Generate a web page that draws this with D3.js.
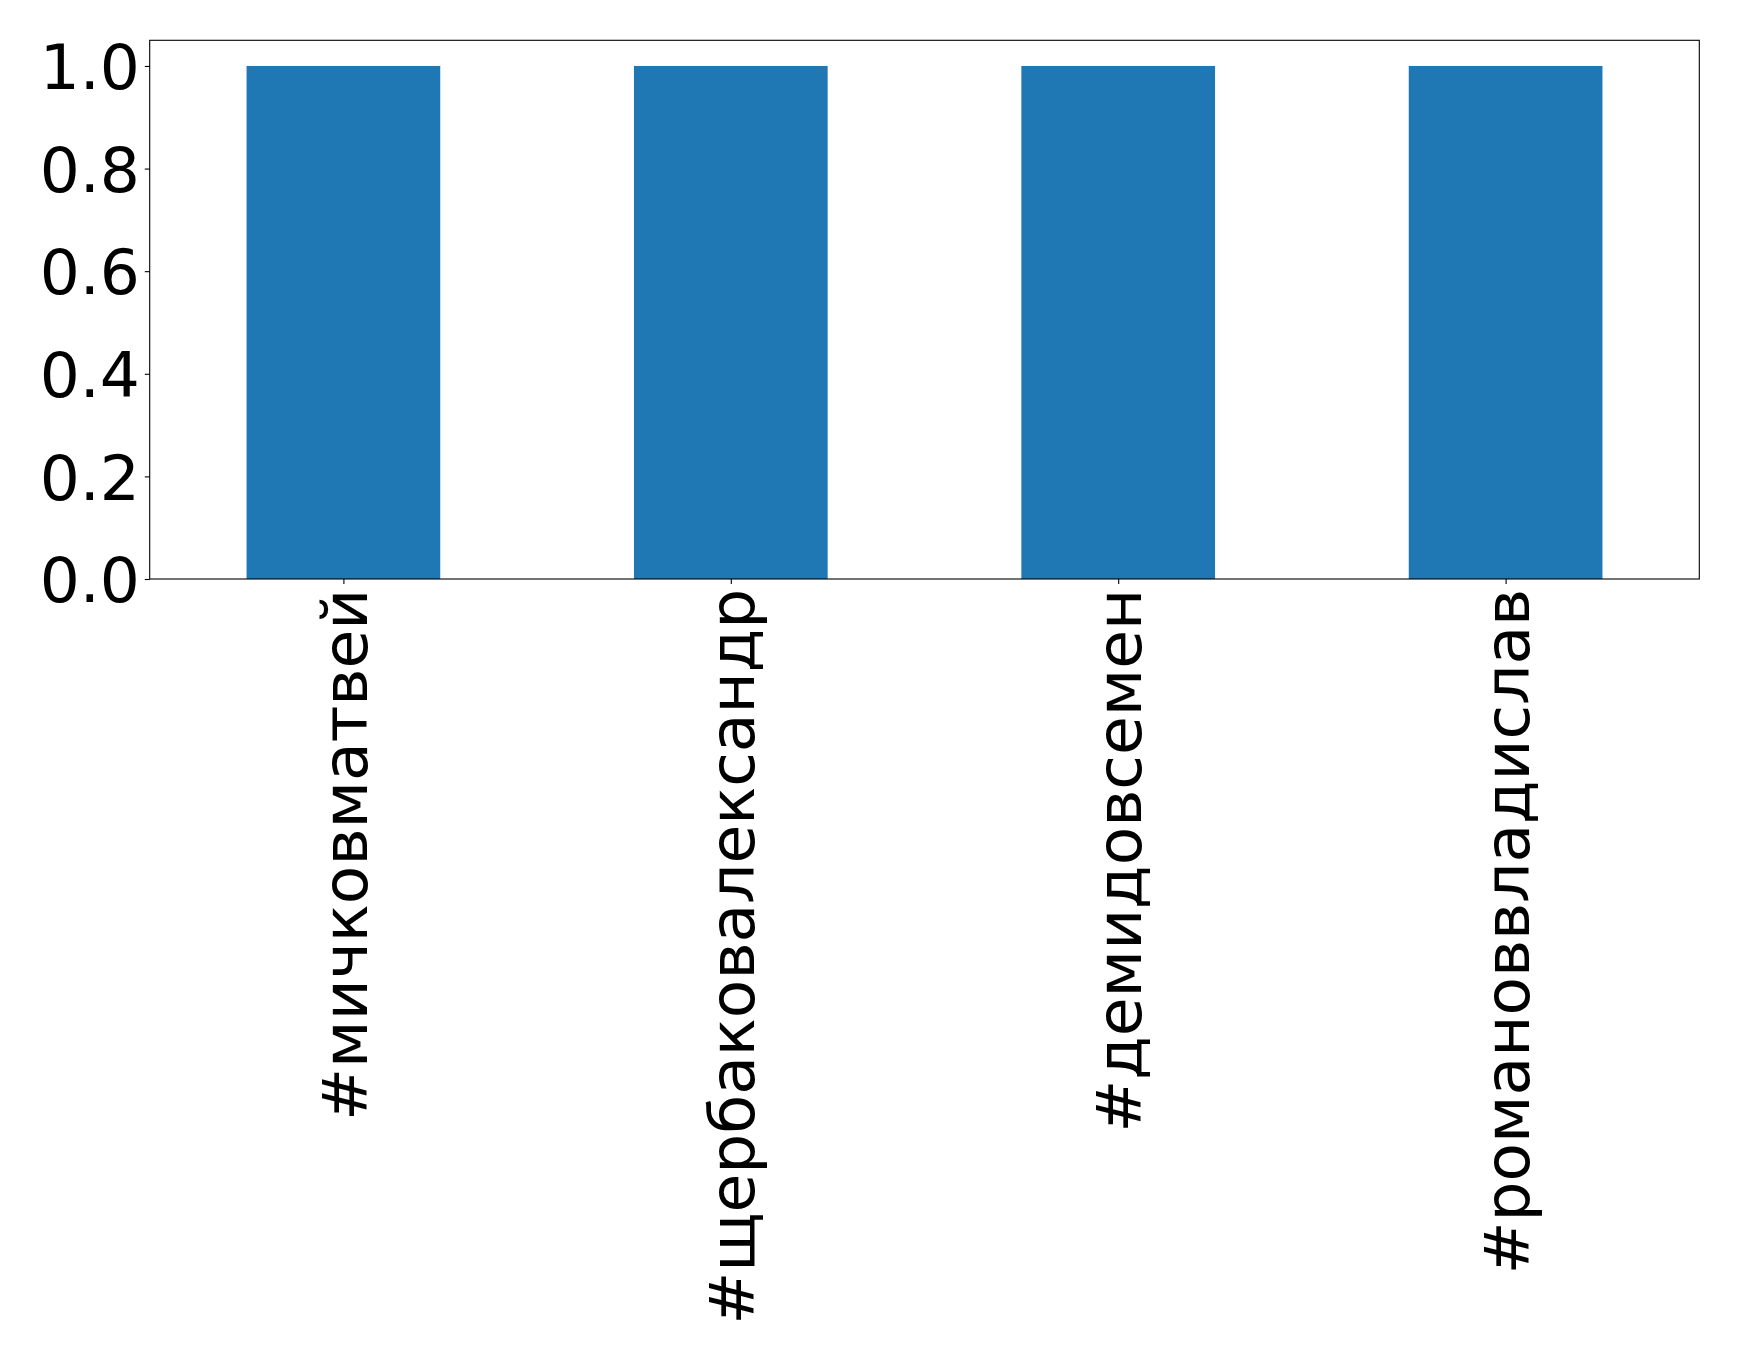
<!DOCTYPE html>
<html><head><meta charset="utf-8">
<script src="https://cdn.jsdelivr.net/npm/d3@7"></script>
<style>body{margin:0;background:#fff}svg{display:block}</style>
</head><body>
<script>
const categories = ["#мичковматвей", "#щербаковалександр", "#демидовсемен", "#романоввладислав"];
const values = [1, 1, 1, 1];
const yTicks = [0.0, 0.2, 0.4, 0.6, 0.8, 1.0];

const W = 1739, H = 1358;
const m = {left: 149.7, right: 1699.3, top: 40.3, bottom: 579};
const font = "DejaVu Sans";
const fs = 63;

const svg = d3.select("body").append("svg").attr("width", W).attr("height", H);
svg.append("rect").attr("width", W).attr("height", H).attr("fill", "#fff");

const x = d3.scaleLinear().domain([-0.5, categories.length - 0.5]).range([m.left, m.right]);
const y = d3.scaleLinear().domain([0, 1.05]).range([m.bottom, m.top]);

svg.append("g").selectAll("rect").data(values).join("rect")
  .attr("x", (d, i) => x(i - 0.25))
  .attr("width", (d, i) => x(i + 0.25) - x(i - 0.25))
  .attr("y", d => y(d))
  .attr("height", d => y(0) - y(d))
  .attr("fill", "#1f77b4");

const yAxis = d3.axisLeft(y).tickValues(yTicks).tickFormat(d3.format(".1f")).tickSize(4.9).tickPadding(4.9);
const gy = svg.append("g").attr("transform", `translate(${m.left},0)`).call(yAxis);
gy.select(".domain").remove();
gy.selectAll("line").attr("stroke", "#000").attr("stroke-width", 1.1);
gy.selectAll("text").attr("font-family", font).attr("font-size", fs).attr("fill", "#000").attr("dy", "0.36em");

const xAxis = d3.axisBottom(x).tickValues(d3.range(categories.length)).tickFormat(i => categories[i]).tickSize(4.9).tickPadding(4.9);
const gx = svg.append("g").attr("transform", `translate(0,${m.bottom})`).call(xAxis);
gx.select(".domain").remove();
gx.selectAll("line").attr("stroke", "#000").attr("stroke-width", 1.1);
gx.selectAll("text").attr("font-family", font).attr("font-size", fs).attr("fill", "#000")
  .attr("text-anchor", "end")
  .attr("transform", "rotate(-90)")
  .attr("x", -9.8).attr("y", 0).attr("dy", "0.36em");

svg.append("rect").attr("x", m.left).attr("y", m.top)
  .attr("width", m.right - m.left).attr("height", m.bottom - m.top)
  .attr("fill", "none").attr("stroke", "#000").attr("stroke-width", 1.1);
</script>
</body></html>
